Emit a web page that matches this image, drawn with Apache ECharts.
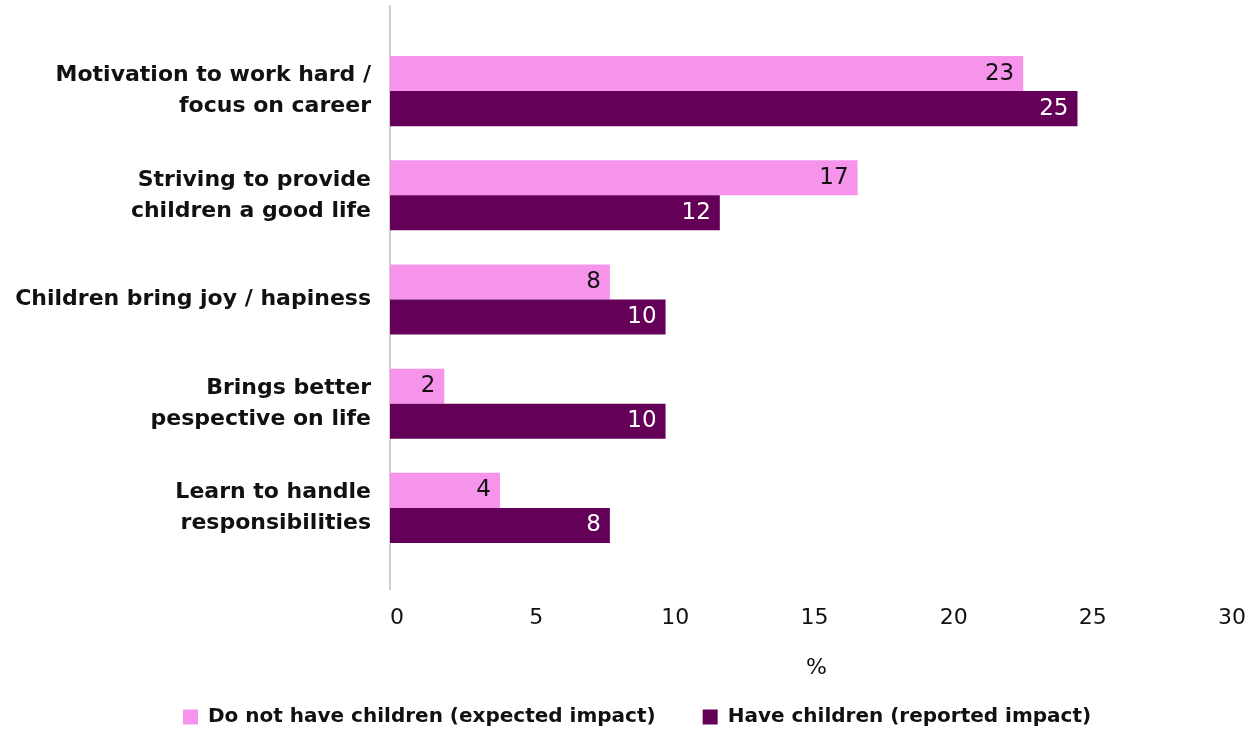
<!DOCTYPE html>
<html>
<head>
<meta charset="utf-8">
<script src="https://cdn.jsdelivr.net/npm/echarts@6/dist/echarts.min.js"></script>
<style>
html,body{margin:0;padding:0;background:#fff;}
#chart{width:1249px;height:734px;}
</style>
</head>
<body>
<div id="chart"></div>
<script>
const categories = [
  "Motivation to work hard /\nfocus on career",
  "Striving to provide\nchildren a good life",
  "Children bring joy / hapiness",
  "Brings better\npespective on life",
  "Learn to handle\nresponsibilities"
];
const seriesNames = ["Do not have children (expected impact)", "Have children (reported impact)"];
const noChildren = [22.75, 16.8, 7.9, 1.95, 3.95];
const haveChildren = [24.7, 11.85, 9.9, 9.9, 7.9];
const xTicks = [0, 5, 10, 15, 20, 25, 30];

const font = "'DejaVu Sans', sans-serif";
const chart = echarts.init(document.getElementById('chart'));
chart.setOption({
  animation: false,
  grid: {left: 390, right: 22, top: 39, bottom: 174, containLabel: false},
  legend: {
    bottom: 2, left: 178,
    itemWidth: 15, itemHeight: 15, itemGap: 47,
    icon: 'rect',
    textStyle: {fontFamily: font, fontWeight: 'bold', fontSize: 20, color: '#111', padding: [0, 0, 0, 5]},
    data: seriesNames
  },
  xAxis: {
    type: 'value', min: xTicks[0], max: xTicks[xTicks.length - 1], interval: 5,
    name: '%', nameLocation: 'middle', nameGap: 97,
    nameTextStyle: {fontFamily: font, fontSize: 22, color: '#111', padding: [0, 0, 0, 18]},
    axisLine: {show: false}, axisTick: {show: false}, splitLine: {show: false},
    axisLabel: {fontFamily: font, fontSize: 22, color: '#111', margin: 47, padding: [0, 0, 0, 14]}
  },
  yAxis: {
    type: 'category', data: categories, inverse: true,
    axisLine: {show: false}, axisTick: {show: false},
    axisLabel: {color: '#111', margin: 19, lineHeight: 31, align: 'right',
      fontFamily: font, fontWeight: 'bold', fontSize: 22}
  },
  graphic: [{
    type: 'line', shape: {x1: 390, y1: 5, x2: 390, y2: 590},
    style: {stroke: '#cfcfcf', lineWidth: 2}
  }],
  series: [
    {
      name: seriesNames[0], type: 'bar', data: noChildren,
      barGap: '0%', barCategoryGap: '32.7%',
      itemStyle: {color: '#F694EC'},
      label: {show: true, position: 'insideRight', distance: 9, color: '#111',
        fontFamily: font, fontSize: 23,
        formatter: p => Math.round(p.value)}
    },
    {
      name: seriesNames[1], type: 'bar', data: haveChildren,
      barGap: '0%', barCategoryGap: '32.7%',
      itemStyle: {color: '#650058'},
      label: {show: true, position: 'insideRight', distance: 9, color: '#fff',
        fontFamily: font, fontSize: 23,
        formatter: p => Math.round(p.value)}
    }
  ]
});
</script>
</body>
</html>
